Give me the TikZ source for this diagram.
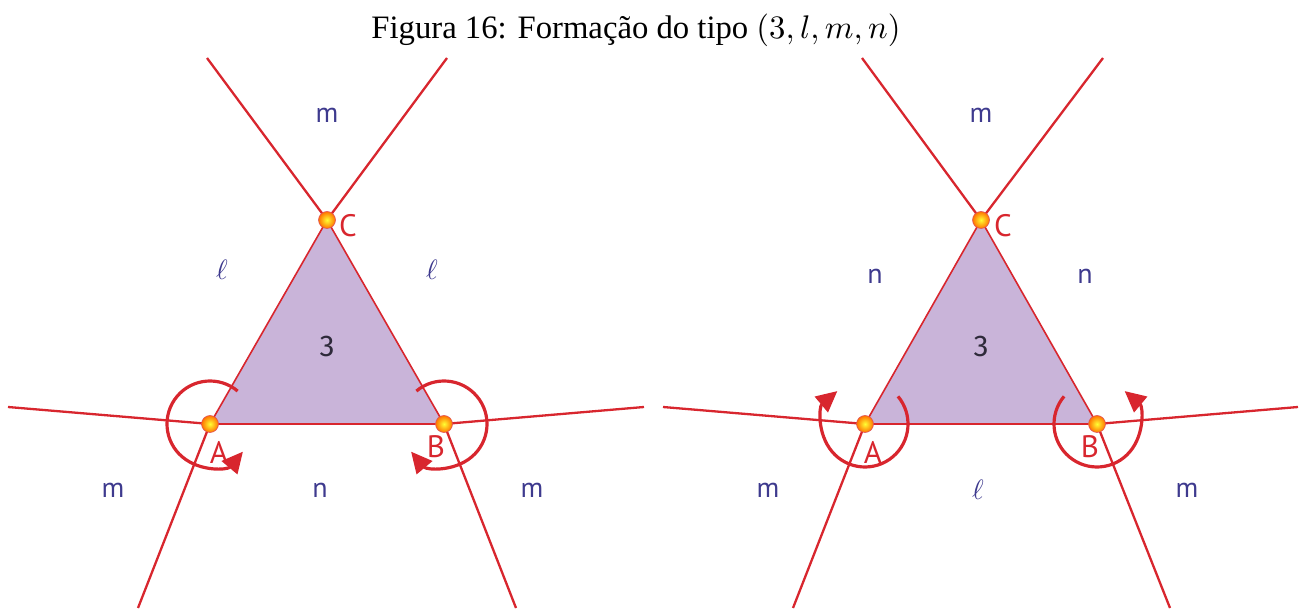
\documentclass[tikz,border=0pt]{standalone}
\usepackage{fontspec}
\setmainfont{Liberation Serif}
\newfontfamily\labfont{PT Sans}
\newfontfamily\digfont{Fira Sans}
\usetikzlibrary{arrows.meta}
\definecolor{redl}{HTML}{D8262E}
\definecolor{tri}{HTML}{C9B4D9}
\definecolor{lab}{HTML}{3E3A8E}
\definecolor{digit}{HTML}{2E2A3A}
\tikzset{
  x=1pt,y=1pt,
  edge/.style={draw=redl,line width=2.3pt},
  turn/.style={draw=redl,line width=3.2pt,-{Triangle[length=21pt,width=20pt]}},
  reg/.style={text=lab,font=\labfont\fontsize{28}{30}\selectfont},
  ell/.style={text=lab,font=\fontsize{10}{12}\selectfont,scale=2.8},
  vlab/.style={text=redl,font=\labfont\fontsize{31}{33}\selectfont},
  num/.style={text=digit,font=\digfont\fontsize{30}{32}\selectfont},
}
\newcommand{\vdot}[1]{\shade[inner color=yellow!80!white,outer color=orange!90!red,draw=redl!80,line width=0.6pt] (#1) circle[radius=8.5];}
\begin{document}
\begin{tikzpicture}
\useasboundingbox (0,0) rectangle (1307,608);
\node[font=\fontsize{10}{12}\selectfont,scale=3.27] (title) at (636,578) {Figura 16: Formação do tipo $(3,l,m,n)$};
% ---------- left figure
\coordinate (A1) at (210,184);
\coordinate (B1) at (444,184);
\coordinate (C1) at (327,388);
\coordinate (a1) at (8,201);
\coordinate (a2) at (138,0);
\coordinate (b1) at (644,201);
\coordinate (b2) at (516,0);
\coordinate (c1) at (207,550);
\coordinate (c2) at (447,550);
\fill[tri] (A1) -- (B1) -- (C1) -- cycle;
\draw[edge,line width=1.6pt] (A1) -- (B1) -- (C1) -- cycle;
\draw[edge] (C1) -- (c1);
\draw[edge] (C1) -- (c2);
\draw[edge] (A1) -- (a1);
\draw[edge] (A1) -- (a2);
\draw[edge] (B1) -- (b1);
\draw[edge] (B1) -- (b2);
\draw[turn] (A1) ++(50:43) arc[start angle=50,end angle=320,radius=43];
\draw[turn] (B1) ++(130:43) arc[start angle=130,end angle=-140,radius=43];
\vdot{A1}\vdot{B1}\vdot{C1}
\node[vlab] (lA1) at (219,156) {A};
\node[vlab] (lB1) at (436,161) {B};
\node[vlab] (lC1) at (348,382) {C};
\node[reg] (r1) at (327,493) {m};
\node[ell] (r2) at (222,338) {$\ell$};
\node[ell] (r3) at (432,338) {$\ell$};
\node[num] (r4) at (327,262) {3};
\node[reg] (r5) at (113,118) {m};
\node[reg] (r6) at (320,118) {n};
\node[reg] (r7) at (532,118) {m};
% ---------- right figure
\coordinate (A2) at (865,184);
\coordinate (B2) at (1097,184);
\coordinate (C2) at (981,388);
\coordinate (d1) at (663,201);
\coordinate (d2) at (793,0);
\coordinate (e1) at (1298,201);
\coordinate (e2) at (1170,0);
\coordinate (f1) at (862,550);
\coordinate (f2) at (1103,550);
\fill[tri] (A2) -- (B2) -- (C2) -- cycle;
\draw[edge,line width=1.6pt] (A2) -- (B2) -- (C2) -- cycle;
\draw[edge] (C2) -- (f1);
\draw[edge] (C2) -- (f2);
\draw[edge] (A2) -- (d1);
\draw[edge] (A2) -- (d2);
\draw[edge] (B2) -- (e1);
\draw[edge] (B2) -- (e2);
\draw[turn] (A2) ++(40:43) arc[start angle=40,end angle=-230,radius=43];
\draw[turn] (B2) ++(140:43) arc[start angle=140,end angle=410,radius=43];
\vdot{A2}\vdot{B2}\vdot{C2}
\node[vlab] (lA2) at (873,156) {A};
\node[vlab] (lB2) at (1090,161) {B};
\node[vlab] (lC2) at (1003,382) {C};
\node[reg] (s1) at (981,493) {m};
\node[reg] (s2) at (875,332) {n};
\node[reg] (s3) at (1085,332) {n};
\node[num] (s4) at (981,262) {3};
\node[reg] (s5) at (768,118) {m};
\node[ell] (s6) at (978,118) {$\ell$};
\node[reg] (s7) at (1187,118) {m};
\end{tikzpicture}
\end{document}
